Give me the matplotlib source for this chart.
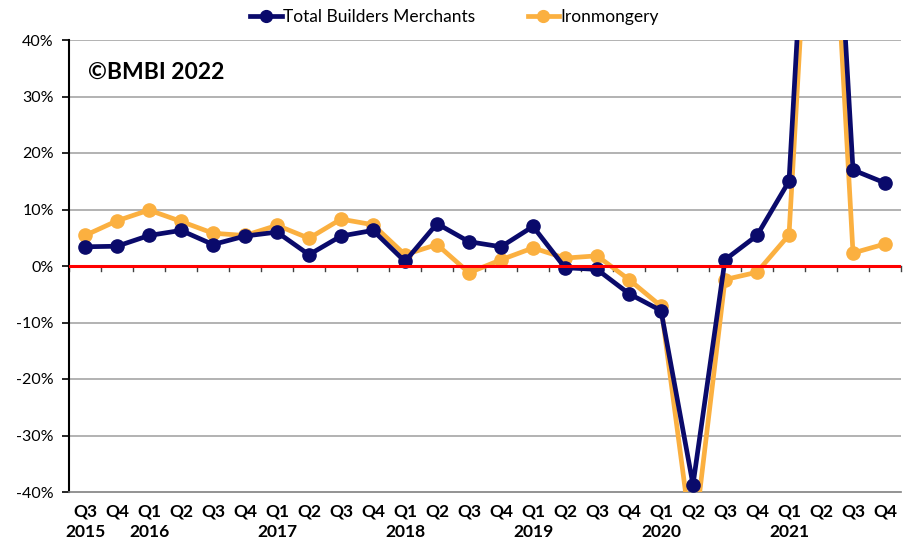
import matplotlib
matplotlib.use("Agg")
import matplotlib.pyplot as plt
from matplotlib.lines import Line2D

plt.rcParams['font.family'] = ['Lato', 'DejaVu Sans']

quarters = ["Q3", "Q4", "Q1", "Q2", "Q3", "Q4", "Q1", "Q2", "Q3", "Q4", "Q1", "Q2", "Q3",
            "Q4", "Q1", "Q2", "Q3", "Q4", "Q1", "Q2", "Q3", "Q4", "Q1", "Q2", "Q3", "Q4"]
years = ["2015", "", "2016", "", "", "", "2017", "", "", "", "2018", "", "",
         "", "2019", "", "", "", "2020", "", "", "", "2021", "", "", ""]
total_bm = [3.4, 3.5, 5.4, 6.3, 3.8, 5.3, 6.0, 2.0, 5.3, 6.3, 0.8, 7.5, 4.3,
            3.4, 7.0, -0.3, -0.6, -4.9, -7.9, -38.7, 1.1, 5.4, 15.0, 115.0, 17.0, 14.7]
ironmongery = [5.4, 8.0, 9.9, 7.9, 5.8, 5.4, 7.2, 4.9, 8.3, 7.3, 2.0, 3.8, -1.2,
               1.1, 3.2, 1.4, 1.8, -2.4, -7.1, -50.0, -2.4, -1.1, 5.5, 105.0, 2.3, 3.9]

navy = "#0a0a6b"
orange = "#fbb040"

fig = plt.figure(figsize=(9.06, 5.42), dpi=100)
ax = fig.add_axes([69/906, 50/542, 832/906, 452/542])

x = list(range(len(quarters)))
ax.plot(x, total_bm, color=navy, lw=3.4, marker='o', ms=9.5, zorder=4,
        label="Total Builders Merchants")
ax.plot(x, ironmongery, color=orange, lw=3.4, marker='o', ms=9.5, zorder=3,
        label="Ironmongery")
ax.axhline(0, color="#ff0000", lw=2.2, zorder=5)

ax.set_xlim(-0.5, len(quarters) - 0.5)
ax.set_ylim(-40, 40)
yt = list(range(-40, 41, 10))
ax.set_yticks(yt)
ax.set_yticklabels([f"{v}%" for v in yt], fontsize=11.5)
for v in yt:
    if v not in (0, -40):
        ax.axhline(v, color="#a6a6a6", lw=1.2, zorder=1)

ax.set_xticks(x)
ax.set_xticklabels([f"{q}\n{y}" if y else q for q, y in zip(quarters, years)],
                   fontsize=12.5, fontweight='bold', linespacing=1.35, va='top')
ax.tick_params(axis='x', length=0, pad=8)
ax.tick_params(axis='y', length=5, width=1.2, color="black", pad=6)

# small ticks at category boundaries on the zero line
for b in range(len(quarters) + 1):
    ax.plot([b - 0.5, b - 0.5], [0, -0.9], color="#404040", lw=1, zorder=2, clip_on=False)

for s in ["top", "right"]:
    ax.spines[s].set_visible(False)
ax.spines["left"].set_color("black")
ax.spines["left"].set_linewidth(1.5)
ax.spines["bottom"].set_color("#808080")
ax.spines["bottom"].set_linewidth(1.2)

ax.text(0.1, 34.2, "©BMBI 2022", fontsize=16.5, fontweight='bold', va='center', ha='left')

handles = [Line2D([], [], color=navy, lw=3.4, marker='o', ms=8.5),
           Line2D([], [], color=orange, lw=3.4, marker='o', ms=8.5)]
fig.legend(handles, ["Total Builders Merchants", "Ironmongery"], loc='center',
           bbox_to_anchor=(0.502, 0.968), ncol=2, frameon=False, fontsize=12.5,
           handlelength=1.8, handletextpad=0.1, columnspacing=3.0)

fig.savefig("out.png", dpi=100)
